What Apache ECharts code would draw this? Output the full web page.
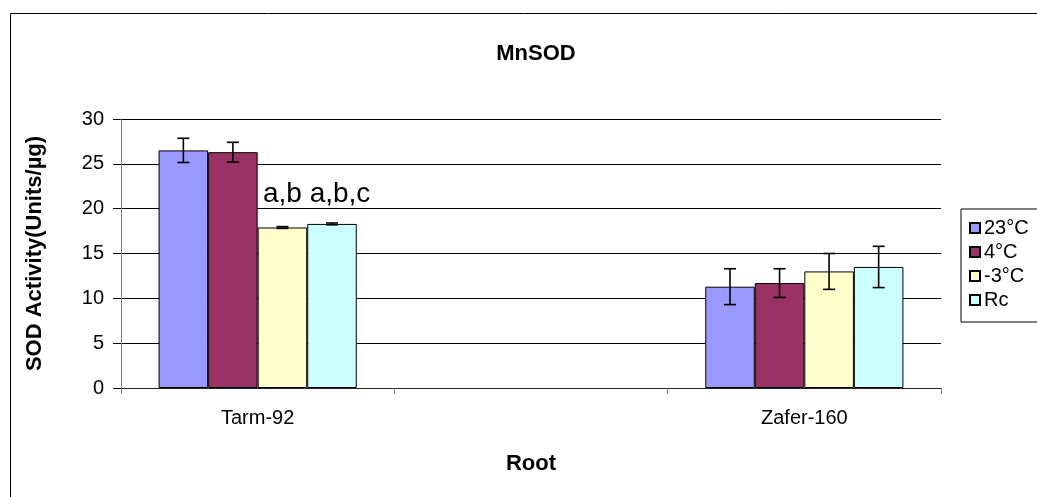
<!DOCTYPE html>
<html>
<head>
<meta charset="utf-8">
<title>MnSOD</title>
<script src="https://cdn.jsdelivr.net/npm/echarts@6/dist/echarts.min.js"></script>
<style>
  html, body { margin: 0; padding: 0; background: #fff; }
  #chart { width: 1037px; height: 497px; }
</style>
</head>
<body>
<div id="chart"></div>
<script>
// Cultivars on the x axis (the middle slot is left empty between the two groups)
const categories = ['Tarm-92', '', 'Zafer-160'];
const seriesNames = ['23°C', '4°C', '-3°C', 'Rc'];
const yTicks = [0, 5, 10, 15, 20, 25, 30];

// Mean SOD activity per temperature treatment
const values23 = [26.5, null, 11.3];
const values4 = [26.3, null, 11.7];
const valuesMinus3 = [17.9, null, 13.0];
const valuesRc = [18.3, null, 13.5];

// Standard errors
const err23 = [1.35, null, 2.0];
const err4 = [1.1, null, 1.6];
const errMinus3 = [0.1, null, 2.0];
const errRc = [0.1, null, 2.3];

// Significance letters written above the bars
const notes23 = ['', '', ''];
const notes4 = ['', '', ''];
const notesMinus3 = ['a,b', '', ''];
const notesRc = ['a,b,c', '', ''];

const allValues = [values23, values4, valuesMinus3, valuesRc];
const allErrors = [err23, err4, errMinus3, errRc];
const allNotes = [notes23, notes4, notesMinus3, notesRc];
const colors = ['#9999FF', '#993366', '#FFFFCC', '#CCFFFF'];

const FONT = 'Arial, "Liberation Sans", sans-serif';
const CATEGORY_GAP = 0.275;
const noteShift = [0, 0, 0, 8];
const noteDistance = [0, 0, 19, 16];

const chart = echarts.init(document.getElementById('chart'), null, { renderer: 'canvas' });

const barSeries = seriesNames.map((name, si) => ({
  name: name,
  type: 'bar',
  barGap: '0%',
  barCategoryGap: (CATEGORY_GAP * 100) + '%',
  itemStyle: { color: colors[si], borderColor: '#000', borderWidth: 1 },
  emphasis: { disabled: true },
  data: allValues[si].map((v, ci) => {
    const note = allNotes[si][ci];
    if (!note) return v;
    return {
      value: v,
      label: {
        show: true,
        position: 'top',
        distance: noteDistance[si],
        offset: [noteShift[si], 0],
        formatter: note,
        fontFamily: FONT,
        fontSize: 28,
        color: '#000'
      }
    };
  })
}));

// Error bars drawn on top of the matching bar in each group
const errorSeries = seriesNames.map((name, si) => ({
  type: 'custom',
  silent: true,
  z: 5,
  renderItem: (params, api) => {
    const ci = api.value(0);
    const v = api.value(1);
    const e = api.value(2);
    const band = api.size([1, 0])[0];
    const bw = band * (1 - CATEGORY_GAP) / seriesNames.length;
    const cx = api.coord([ci, v])[0] + (si - (seriesNames.length - 1) / 2) * bw;
    const yTop = api.coord([ci, v + e])[1];
    const yBot = api.coord([ci, v - e])[1];
    const cap = 6;
    const style = { stroke: '#000', lineWidth: 1.6 };
    return {
      type: 'group',
      children: [
        { type: 'line', shape: { x1: cx, y1: yTop, x2: cx, y2: yBot }, style: style },
        { type: 'line', shape: { x1: cx - cap, y1: yTop, x2: cx + cap, y2: yTop }, style: style },
        { type: 'line', shape: { x1: cx - cap, y1: yBot, x2: cx + cap, y2: yBot }, style: style }
      ]
    };
  },
  data: allValues[si]
    .map((v, ci) => (v == null ? null : [ci, v, allErrors[si][ci]]))
    .filter(d => d)
}));

chart.setOption({
  animation: false,
  backgroundColor: '#fff',
  textStyle: { fontFamily: FONT },
  title: {
    text: 'MnSOD',
    left: 531,
    top: 38,
    textAlign: 'center',
    textStyle: { fontFamily: FONT, fontSize: 22, fontWeight: 'bold', color: '#000' }
  },
  graphic: [{
    type: 'rect',
    shape: { x: 10.5, y: 13.5, width: 1200, height: 700 },
    style: { fill: 'none', stroke: '#000', lineWidth: 1 },
    silent: true
  }],
  legend: {
    data: seriesNames,
    orient: 'vertical',
    left: 961,
    top: 209,
    icon: 'rect',
    itemWidth: 10,
    itemHeight: 10,
    itemGap: 4,
    padding: [9, 40, 12, 8],
    backgroundColor: '#fff',
    borderColor: '#000',
    borderWidth: 1,
    selectedMode: false,
    textStyle: { fontFamily: FONT, fontSize: 20, color: '#000', lineHeight: 20, padding: [0, 0, 0, -1] }
  },
  grid: { left: 121, right: 96, top: 119, bottom: 109, containLabel: false },
  xAxis: {
    type: 'category',
    data: categories,
    name: 'Root',
    nameLocation: 'middle',
    nameGap: 65,
    nameTextStyle: { fontFamily: FONT, fontSize: 22, fontWeight: 'bold', color: '#000' },
    axisLine: { lineStyle: { color: '#222', width: 1 } },
    axisTick: { show: true, alignWithLabel: false, length: 6, lineStyle: { color: '#808080' } },
    axisLabel: { fontFamily: FONT, fontSize: 20, color: '#000', margin: 20, interval: 0 },
    splitLine: { show: false }
  },
  yAxis: {
    type: 'value',
    min: yTicks[0],
    max: yTicks[yTicks.length - 1],
    interval: yTicks[1] - yTicks[0],
    name: 'SOD Activity(Units/µg)',
    nameLocation: 'middle',
    nameGap: 75,
    nameRotate: 90,
    nameTextStyle: { fontFamily: FONT, fontSize: 22, fontWeight: 'bold', color: '#000' },
    axisLine: { show: true, lineStyle: { color: '#808080', width: 1 } },
    axisTick: { show: true, inside: false, length: 8, lineStyle: { color: '#000' } },
    axisLabel: { fontFamily: FONT, fontSize: 20, color: '#000', margin: 17 },
    splitLine: { show: true, lineStyle: { color: '#000', width: 1 } }
  },
  series: [...barSeries, ...errorSeries]
});
</script>
</body>
</html>
